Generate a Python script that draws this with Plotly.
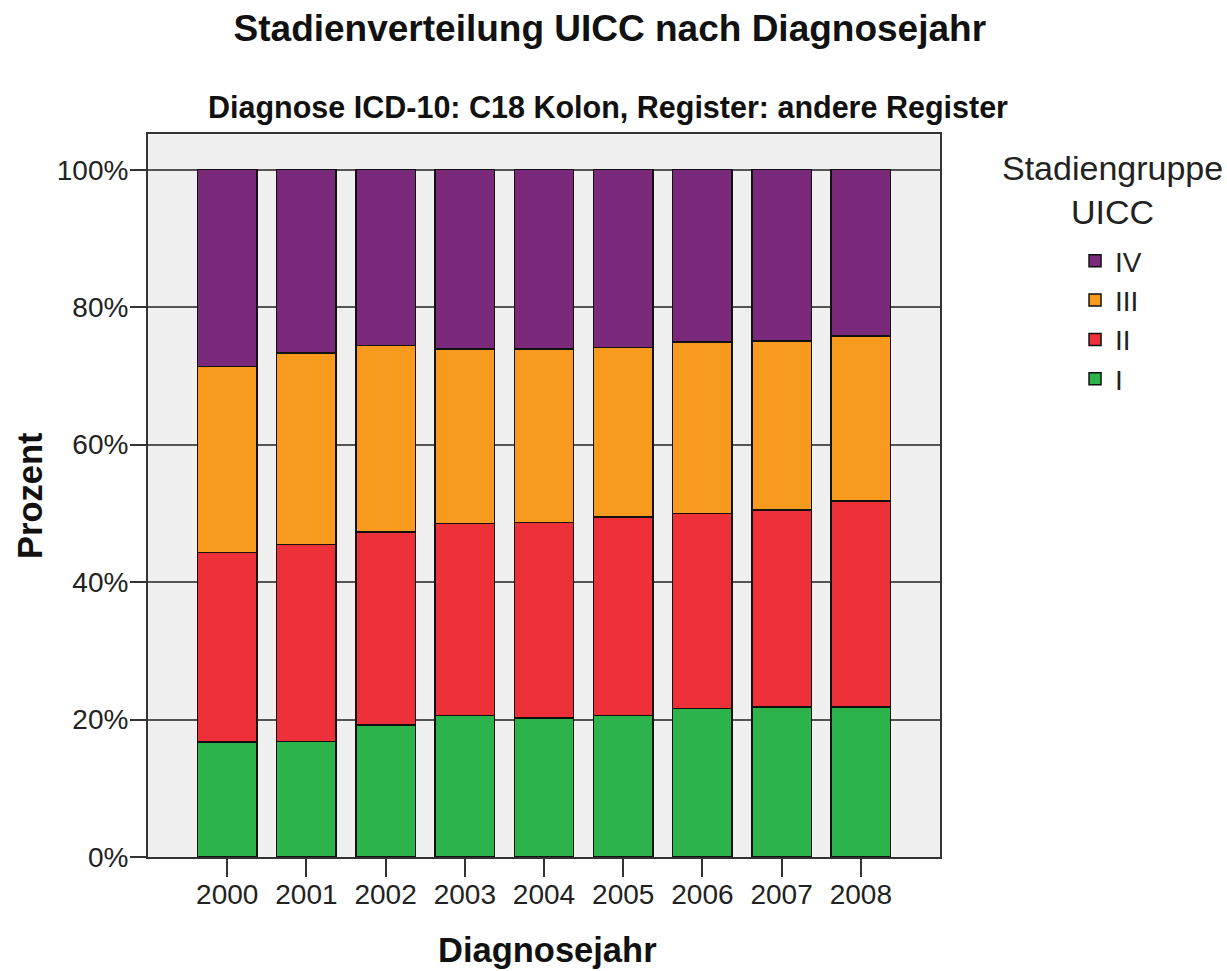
import plotly.graph_objects as go

years = ["2000", "2001", "2002", "2003", "2004", "2005", "2006", "2007", "2008"]
stage_I = [16.7, 16.8, 19.2, 20.6, 20.2, 20.6, 21.6, 21.8, 21.8]
stage_II = [27.6, 28.7, 28.1, 27.9, 28.5, 28.9, 28.4, 28.7, 30.0]
stage_III = [27.1, 27.8, 27.1, 25.4, 25.2, 24.6, 24.9, 24.6, 24.0]
stage_IV = [28.6, 26.7, 25.6, 26.1, 26.1, 25.9, 25.1, 24.9, 24.2]

series = [
    ("I", stage_I, "#2DB34B"),
    ("II", stage_II, "#EE3039"),
    ("III", stage_III, "#F79A1E"),
    ("IV", stage_IV, "#7B2A7B"),
]

FONT = "Liberation Sans, Arial, sans-serif"

fig = go.Figure()
for name, vals, col in series:
    fig.add_trace(go.Bar(
        x=years, y=vals, name=name, width=0.75,
        marker=dict(color=col, line=dict(color="#111111", width=1.5)),
        legendgroup=name,
    ))

fig.update_layout(
    width=1227, height=971,
    barmode="stack",
    paper_bgcolor="white",
    plot_bgcolor="#F0F0F0",
    margin=dict(l=148, r=287, t=134, b=114, autoexpand=False),
    font=dict(family=FONT, color="#222222"),
    title=dict(
        text="<b>Stadienverteilung UICC nach Diagnosejahr</b>",
        font=dict(family=FONT, size=37, color="#111111"),
        x=0.497, xref="container", xanchor="center",
        y=0.971, yref="container", yanchor="middle",
    ),
    xaxis=dict(
        type="category", range=[-1, 9],
        showgrid=False, zeroline=False,
        showline=True, linecolor="#333333", linewidth=2, mirror=True,
        ticks="outside", ticklen=18, tickwidth=2, tickcolor="#333333",
        tickfont=dict(family=FONT, size=28, color="#222222"),
        ticklabelstandoff=-7,
    ),
    yaxis=dict(
        range=[0, 105.2],
        tickvals=[0, 20, 40, 60, 80, 100],
        ticktext=["0%", "20%", "40%", "60%", "80%", "100%"],
        showgrid=True, gridcolor="#555555", gridwidth=2,
        zeroline=False,
        showline=True, linecolor="#333333", linewidth=2, mirror=True,
        ticks="outside", ticklen=16, tickwidth=2, tickcolor="#333333",
        tickfont=dict(family=FONT, size=28, color="#222222"),
        ticklabelstandoff=-4,
    ),
    legend=dict(
        x=1.1705, xanchor="left", y=0.859, yanchor="top",
        font=dict(family=FONT, size=28, color="#222222"),
        tracegroupgap=2,
        traceorder="reversed",
        bgcolor="rgba(0,0,0,0)",
    ),
    showlegend=True,
)

fig.add_annotation(
    text="<b>Diagnose ICD-10: C18 Kolon, Register: andere Register</b>",
    xref="paper", yref="paper", x=0.581, y=1.037,
    xanchor="center", yanchor="middle", showarrow=False,
    font=dict(family=FONT, size=30.5, color="#111111"),
)
fig.add_annotation(
    text="<b>Diagnosejahr</b>",
    xref="paper", yref="paper", x=0.5045, y=-0.1286,
    xanchor="center", yanchor="middle", showarrow=False,
    font=dict(family=FONT, size=34.5, color="#111111"),
)
fig.add_annotation(
    text="<b>Prozent</b>",
    xref="paper", yref="paper", x=-0.149, y=0.5007,
    xanchor="center", yanchor="middle", showarrow=False, textangle=-90,
    font=dict(family=FONT, size=34.5, color="#111111"),
)
fig.add_annotation(
    text="Stadiengruppe<br>UICC",
    xref="paper", yref="paper", x=1.2172, y=0.9225,
    xanchor="center", yanchor="middle", showarrow=False,
    font=dict(family=FONT, size=34, color="#222222"),
)

fig.write_html(
    "out.html",
    config={"displayModeBar": False},
    post_script="document.body.style.margin='0';",
)
